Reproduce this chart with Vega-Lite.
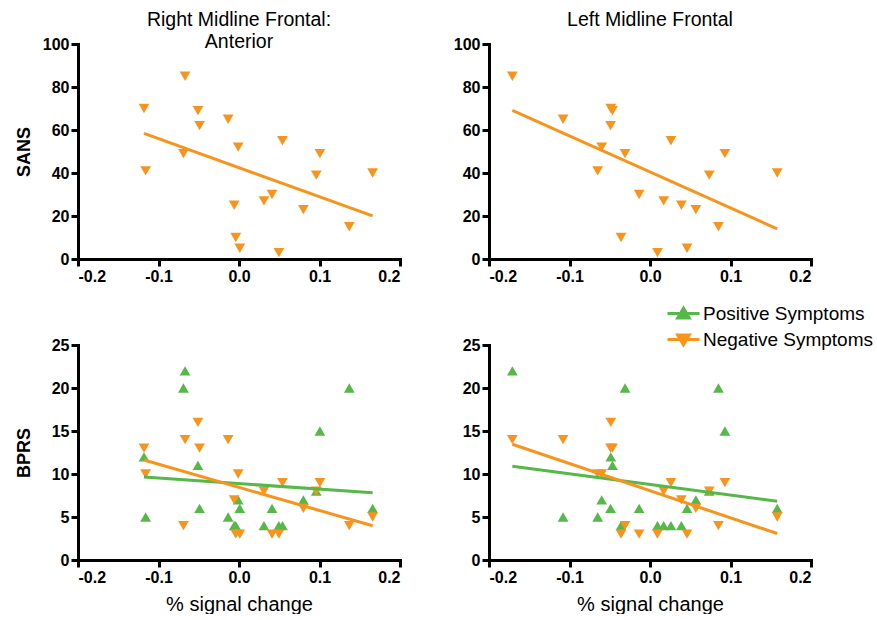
{
  "$schema": "https://vega.github.io/schema/vega-lite/v6.json",
  "background": "white",
  "padding": {"left": 15, "top": 9, "right": 0, "bottom": 0},
  "autosize": {"type": "pad"},
  "config": {
    "font": "Liberation Sans",
    "view": {"stroke": null},
    "axis": {
      "grid": false, "domainColor": "black", "domainWidth": 3, "domainCap": "square",
      "tickColor": "black", "tickWidth": 3, "tickSize": 7,
      "labelFont": "Liberation Sans", "labelFontWeight": "bold", "labelFontSize": 16, "labelColor": "black", "labelPadding": 2,
      "titleFont": "Liberation Sans", "titleFontSize": 18, "titleColor": "black"
    },
    "title": {"font": "Liberation Sans", "fontSize": 19.5, "fontWeight": "normal", "color": "black", "lineHeight": 22},
    "legend": {
      "orient": "none", "legendX": 594, "legendY": 258, "title": null,
      "labelFont": "Liberation Sans", "labelFontSize": 19, "labelColor": "black", "labelLimit": 400,
      "symbolSize": 400, "symbolStrokeWidth": 3, "rowPadding": 4, "labelOffset": 8,
      "symbolType": "M-1.6,0H1.6M-0.58,-0.45L0.58,-0.45L0,0.54Z"
    }
  },
  "datasets": {
    "rmf_sans": [
      {"x": -0.118, "y": 70, "symptom": "Negative Symptoms"},
      {"x": -0.116, "y": 41, "symptom": "Negative Symptoms"},
      {"x": -0.067, "y": 85, "symptom": "Negative Symptoms"},
      {"x": -0.069, "y": 49, "symptom": "Negative Symptoms"},
      {"x": -0.051, "y": 69, "symptom": "Negative Symptoms"},
      {"x": -0.049, "y": 62, "symptom": "Negative Symptoms"},
      {"x": -0.0135, "y": 65, "symptom": "Negative Symptoms"},
      {"x": -0.001, "y": 52, "symptom": "Negative Symptoms"},
      {"x": -0.006, "y": 25, "symptom": "Negative Symptoms"},
      {"x": -0.004, "y": 10, "symptom": "Negative Symptoms"},
      {"x": 0.001, "y": 5, "symptom": "Negative Symptoms"},
      {"x": 0.031, "y": 27, "symptom": "Negative Symptoms"},
      {"x": 0.041, "y": 30, "symptom": "Negative Symptoms"},
      {"x": 0.0495, "y": 3, "symptom": "Negative Symptoms"},
      {"x": 0.054, "y": 55, "symptom": "Negative Symptoms"},
      {"x": 0.08, "y": 23, "symptom": "Negative Symptoms"},
      {"x": 0.096, "y": 39, "symptom": "Negative Symptoms"},
      {"x": 0.1005, "y": 49, "symptom": "Negative Symptoms"},
      {"x": 0.137, "y": 15, "symptom": "Negative Symptoms"},
      {"x": 0.166, "y": 40, "symptom": "Negative Symptoms"}
    ],
    "lmf_sans": [
      {"x": -0.171, "y": 85, "symptom": "Negative Symptoms"},
      {"x": -0.108, "y": 65, "symptom": "Negative Symptoms"},
      {"x": -0.0487, "y": 70, "symptom": "Negative Symptoms"},
      {"x": -0.0466, "y": 69, "symptom": "Negative Symptoms"},
      {"x": -0.049, "y": 62, "symptom": "Negative Symptoms"},
      {"x": -0.06, "y": 52, "symptom": "Negative Symptoms"},
      {"x": -0.065, "y": 41, "symptom": "Negative Symptoms"},
      {"x": -0.031, "y": 49, "symptom": "Negative Symptoms"},
      {"x": -0.0135, "y": 30, "symptom": "Negative Symptoms"},
      {"x": -0.036, "y": 10, "symptom": "Negative Symptoms"},
      {"x": 0.017, "y": 27, "symptom": "Negative Symptoms"},
      {"x": 0.026, "y": 55, "symptom": "Negative Symptoms"},
      {"x": 0.0093, "y": 3, "symptom": "Negative Symptoms"},
      {"x": 0.039, "y": 25, "symptom": "Negative Symptoms"},
      {"x": 0.046, "y": 5, "symptom": "Negative Symptoms"},
      {"x": 0.057, "y": 23, "symptom": "Negative Symptoms"},
      {"x": 0.0736, "y": 39, "symptom": "Negative Symptoms"},
      {"x": 0.093, "y": 49, "symptom": "Negative Symptoms"},
      {"x": 0.085, "y": 15, "symptom": "Negative Symptoms"},
      {"x": 0.158, "y": 40, "symptom": "Negative Symptoms"}
    ],
    "rmf_bprs": [
      {"x": -0.118, "y": 12, "symptom": "Positive Symptoms"},
      {"x": -0.116, "y": 5, "symptom": "Positive Symptoms"},
      {"x": -0.067, "y": 22, "symptom": "Positive Symptoms"},
      {"x": -0.069, "y": 20, "symptom": "Positive Symptoms"},
      {"x": -0.051, "y": 11, "symptom": "Positive Symptoms"},
      {"x": -0.049, "y": 6, "symptom": "Positive Symptoms"},
      {"x": -0.0135, "y": 5, "symptom": "Positive Symptoms"},
      {"x": -0.001, "y": 7, "symptom": "Positive Symptoms"},
      {"x": -0.006, "y": 4, "symptom": "Positive Symptoms"},
      {"x": -0.004, "y": 4, "symptom": "Positive Symptoms"},
      {"x": 0.001, "y": 6, "symptom": "Positive Symptoms"},
      {"x": 0.031, "y": 4, "symptom": "Positive Symptoms"},
      {"x": 0.041, "y": 6, "symptom": "Positive Symptoms"},
      {"x": 0.0495, "y": 4, "symptom": "Positive Symptoms"},
      {"x": 0.054, "y": 4, "symptom": "Positive Symptoms"},
      {"x": 0.08, "y": 7, "symptom": "Positive Symptoms"},
      {"x": 0.096, "y": 8, "symptom": "Positive Symptoms"},
      {"x": 0.1005, "y": 15, "symptom": "Positive Symptoms"},
      {"x": 0.137, "y": 20, "symptom": "Positive Symptoms"},
      {"x": 0.166, "y": 6, "symptom": "Positive Symptoms"},
      {"x": -0.118, "y": 13, "symptom": "Negative Symptoms"},
      {"x": -0.116, "y": 10, "symptom": "Negative Symptoms"},
      {"x": -0.067, "y": 14, "symptom": "Negative Symptoms"},
      {"x": -0.069, "y": 4, "symptom": "Negative Symptoms"},
      {"x": -0.051, "y": 16, "symptom": "Negative Symptoms"},
      {"x": -0.049, "y": 13, "symptom": "Negative Symptoms"},
      {"x": -0.0135, "y": 14, "symptom": "Negative Symptoms"},
      {"x": -0.001, "y": 10, "symptom": "Negative Symptoms"},
      {"x": -0.006, "y": 7, "symptom": "Negative Symptoms"},
      {"x": -0.004, "y": 3, "symptom": "Negative Symptoms"},
      {"x": 0.001, "y": 3, "symptom": "Negative Symptoms"},
      {"x": 0.031, "y": 8, "symptom": "Negative Symptoms"},
      {"x": 0.041, "y": 3, "symptom": "Negative Symptoms"},
      {"x": 0.0495, "y": 3, "symptom": "Negative Symptoms"},
      {"x": 0.054, "y": 9, "symptom": "Negative Symptoms"},
      {"x": 0.08, "y": 6, "symptom": "Negative Symptoms"},
      {"x": 0.096, "y": 8, "symptom": "Negative Symptoms"},
      {"x": 0.1005, "y": 9, "symptom": "Negative Symptoms"},
      {"x": 0.137, "y": 4, "symptom": "Negative Symptoms"},
      {"x": 0.166, "y": 5, "symptom": "Negative Symptoms"}
    ],
    "lmf_bprs": [
      {"x": -0.171, "y": 22, "symptom": "Positive Symptoms"},
      {"x": -0.108, "y": 5, "symptom": "Positive Symptoms"},
      {"x": -0.0487, "y": 12, "symptom": "Positive Symptoms"},
      {"x": -0.0466, "y": 11, "symptom": "Positive Symptoms"},
      {"x": -0.049, "y": 6, "symptom": "Positive Symptoms"},
      {"x": -0.06, "y": 7, "symptom": "Positive Symptoms"},
      {"x": -0.065, "y": 5, "symptom": "Positive Symptoms"},
      {"x": -0.031, "y": 20, "symptom": "Positive Symptoms"},
      {"x": -0.0135, "y": 6, "symptom": "Positive Symptoms"},
      {"x": -0.036, "y": 4, "symptom": "Positive Symptoms"},
      {"x": 0.017, "y": 4, "symptom": "Positive Symptoms"},
      {"x": 0.026, "y": 4, "symptom": "Positive Symptoms"},
      {"x": 0.0093, "y": 4, "symptom": "Positive Symptoms"},
      {"x": 0.039, "y": 4, "symptom": "Positive Symptoms"},
      {"x": 0.046, "y": 6, "symptom": "Positive Symptoms"},
      {"x": 0.057, "y": 7, "symptom": "Positive Symptoms"},
      {"x": 0.0736, "y": 8, "symptom": "Positive Symptoms"},
      {"x": 0.093, "y": 15, "symptom": "Positive Symptoms"},
      {"x": 0.085, "y": 20, "symptom": "Positive Symptoms"},
      {"x": 0.158, "y": 6, "symptom": "Positive Symptoms"},
      {"x": -0.171, "y": 14, "symptom": "Negative Symptoms"},
      {"x": -0.108, "y": 14, "symptom": "Negative Symptoms"},
      {"x": -0.0487, "y": 16, "symptom": "Negative Symptoms"},
      {"x": -0.0466, "y": 13, "symptom": "Negative Symptoms"},
      {"x": -0.049, "y": 13, "symptom": "Negative Symptoms"},
      {"x": -0.06, "y": 10, "symptom": "Negative Symptoms"},
      {"x": -0.065, "y": 10, "symptom": "Negative Symptoms"},
      {"x": -0.031, "y": 4, "symptom": "Negative Symptoms"},
      {"x": -0.0135, "y": 3, "symptom": "Negative Symptoms"},
      {"x": -0.036, "y": 3, "symptom": "Negative Symptoms"},
      {"x": 0.017, "y": 8, "symptom": "Negative Symptoms"},
      {"x": 0.026, "y": 9, "symptom": "Negative Symptoms"},
      {"x": 0.0093, "y": 3, "symptom": "Negative Symptoms"},
      {"x": 0.039, "y": 7, "symptom": "Negative Symptoms"},
      {"x": 0.046, "y": 3, "symptom": "Negative Symptoms"},
      {"x": 0.057, "y": 6, "symptom": "Negative Symptoms"},
      {"x": 0.0736, "y": 8, "symptom": "Negative Symptoms"},
      {"x": 0.093, "y": 9, "symptom": "Negative Symptoms"},
      {"x": 0.085, "y": 4, "symptom": "Negative Symptoms"},
      {"x": 0.158, "y": 5, "symptom": "Negative Symptoms"}
    ]
  },
  "columns": 2,
  "spacing": {"row": 53, "column": 51},
  "concat": [
    {
      "width": 322, "height": 215,
      "data": {"name": "rmf_sans"},
      "title": {"text": ["Right Midline Frontal:", "Anterior"], "offset": -16},
      "encoding": {
        "x": {"field": "x", "type": "quantitative", "scale": {"domain": [-0.2, 0.2], "nice": false},
              "axis": {"title": null, "values": [-0.2, -0.1, 0, 0.1, 0.2], "labelExpr": "replace(format(datum.value, '.1f'), '\u2212', '-')"}},
        "y": {"field": "y", "type": "quantitative", "scale": {"domain": [0, 100], "nice": false},
              "axis": {"title": "SANS", "titleFontWeight": "bold", "titleX": -45, "values": [0, 20, 40, 60, 80, 100]}},
        "color": {"field": "symptom", "type": "nominal",
                  "scale": {"domain": ["Positive Symptoms", "Negative Symptoms"], "range": ["#55B848", "#F7941E"]},
                  "legend": {"encode": {"symbols": {"update": {"stroke": {"scale": "color", "field": "value"}, "shape": {"signal": "datum.value === 'Positive Symptoms' ? 'M-1.6,0H1.6M-0.58,0.45L0.58,0.45L0,-0.54Z' : 'M-1.6,0H1.6M-0.58,-0.45L0.58,-0.45L0,0.54Z'"}}}}}}
      },
      "layer": [
        {"mark": {"type": "point", "filled": true, "opacity": 1, "size": 115, "shape": "triangle-up"}, "transform": [{"filter": "datum.symptom === 'Positive Symptoms'"}]},
        {"mark": {"type": "point", "filled": true, "opacity": 1, "size": 115, "shape": "triangle-down"}, "transform": [{"filter": "datum.symptom === 'Negative Symptoms'"}]},
        {"mark": {"type": "line", "strokeWidth": 3}, "transform": [{"regression": "y", "on": "x", "groupby": ["symptom"]}], "encoding": {}}
      ]
    },
    {
      "width": 322, "height": 215,
      "data": {"name": "lmf_sans"},
      "title": {"text": "Left Midline Frontal", "offset": 6},
      "encoding": {
        "x": {"field": "x", "type": "quantitative", "scale": {"domain": [-0.2, 0.2], "nice": false},
              "axis": {"title": null, "values": [-0.2, -0.1, 0, 0.1, 0.2], "labelExpr": "replace(format(datum.value, '.1f'), '\u2212', '-')"}},
        "y": {"field": "y", "type": "quantitative", "scale": {"domain": [0, 100], "nice": false},
              "axis": {"title": null, "values": [0, 20, 40, 60, 80, 100]}},
        "color": {"field": "symptom", "type": "nominal",
                  "scale": {"domain": ["Positive Symptoms", "Negative Symptoms"], "range": ["#55B848", "#F7941E"]},
                  "legend": {"encode": {"symbols": {"update": {"stroke": {"scale": "color", "field": "value"}, "shape": {"signal": "datum.value === 'Positive Symptoms' ? 'M-1.6,0H1.6M-0.58,0.45L0.58,0.45L0,-0.54Z' : 'M-1.6,0H1.6M-0.58,-0.45L0.58,-0.45L0,0.54Z'"}}}}}}
      },
      "layer": [
        {"mark": {"type": "point", "filled": true, "opacity": 1, "size": 115, "shape": "triangle-up"}, "transform": [{"filter": "datum.symptom === 'Positive Symptoms'"}]},
        {"mark": {"type": "point", "filled": true, "opacity": 1, "size": 115, "shape": "triangle-down"}, "transform": [{"filter": "datum.symptom === 'Negative Symptoms'"}]},
        {"mark": {"type": "line", "strokeWidth": 3}, "transform": [{"regression": "y", "on": "x", "groupby": ["symptom"]}], "encoding": {}}
      ]
    },
    {
      "width": 322, "height": 215,
      "data": {"name": "rmf_bprs"},
      "encoding": {
        "x": {"field": "x", "type": "quantitative", "scale": {"domain": [-0.2, 0.2], "nice": false},
              "axis": {"title": "% signal change", "titleFontSize": 20, "titlePadding": 9, "titleFontWeight": "normal", "values": [-0.2, -0.1, 0, 0.1, 0.2], "labelExpr": "replace(format(datum.value, '.1f'), '\u2212', '-')"}},
        "y": {"field": "y", "type": "quantitative", "scale": {"domain": [0, 25], "nice": false},
              "axis": {"title": "BPRS", "titleFontWeight": "bold", "titleX": -45, "values": [0, 5, 10, 15, 20, 25]}},
        "color": {"field": "symptom", "type": "nominal",
                  "scale": {"domain": ["Positive Symptoms", "Negative Symptoms"], "range": ["#55B848", "#F7941E"]},
                  "legend": {"encode": {"symbols": {"update": {"stroke": {"scale": "color", "field": "value"}, "shape": {"signal": "datum.value === 'Positive Symptoms' ? 'M-1.6,0H1.6M-0.58,0.45L0.58,0.45L0,-0.54Z' : 'M-1.6,0H1.6M-0.58,-0.45L0.58,-0.45L0,0.54Z'"}}}}}}
      },
      "layer": [
        {"mark": {"type": "point", "filled": true, "opacity": 1, "size": 115, "shape": "triangle-up"}, "transform": [{"filter": "datum.symptom === 'Positive Symptoms'"}]},
        {"mark": {"type": "point", "filled": true, "opacity": 1, "size": 115, "shape": "triangle-down"}, "transform": [{"filter": "datum.symptom === 'Negative Symptoms'"}]},
        {"mark": {"type": "line", "strokeWidth": 3}, "transform": [{"regression": "y", "on": "x", "groupby": ["symptom"]}], "encoding": {}}
      ]
    },
    {
      "width": 322, "height": 215,
      "data": {"name": "lmf_bprs"},
      "encoding": {
        "x": {"field": "x", "type": "quantitative", "scale": {"domain": [-0.2, 0.2], "nice": false},
              "axis": {"title": "% signal change", "titleFontSize": 20, "titlePadding": 9, "titleFontWeight": "normal", "values": [-0.2, -0.1, 0, 0.1, 0.2], "labelExpr": "replace(format(datum.value, '.1f'), '\u2212', '-')"}},
        "y": {"field": "y", "type": "quantitative", "scale": {"domain": [0, 25], "nice": false},
              "axis": {"title": null, "values": [0, 5, 10, 15, 20, 25]}},
        "color": {"field": "symptom", "type": "nominal",
                  "scale": {"domain": ["Positive Symptoms", "Negative Symptoms"], "range": ["#55B848", "#F7941E"]},
                  "legend": {"encode": {"symbols": {"update": {"stroke": {"scale": "color", "field": "value"}, "shape": {"signal": "datum.value === 'Positive Symptoms' ? 'M-1.6,0H1.6M-0.58,0.45L0.58,0.45L0,-0.54Z' : 'M-1.6,0H1.6M-0.58,-0.45L0.58,-0.45L0,0.54Z'"}}}}}}
      },
      "layer": [
        {"mark": {"type": "point", "filled": true, "opacity": 1, "size": 115, "shape": "triangle-up"}, "transform": [{"filter": "datum.symptom === 'Positive Symptoms'"}]},
        {"mark": {"type": "point", "filled": true, "opacity": 1, "size": 115, "shape": "triangle-down"}, "transform": [{"filter": "datum.symptom === 'Negative Symptoms'"}]},
        {"mark": {"type": "line", "strokeWidth": 3}, "transform": [{"regression": "y", "on": "x", "groupby": ["symptom"]}], "encoding": {}}
      ]
    }
  ]
}
